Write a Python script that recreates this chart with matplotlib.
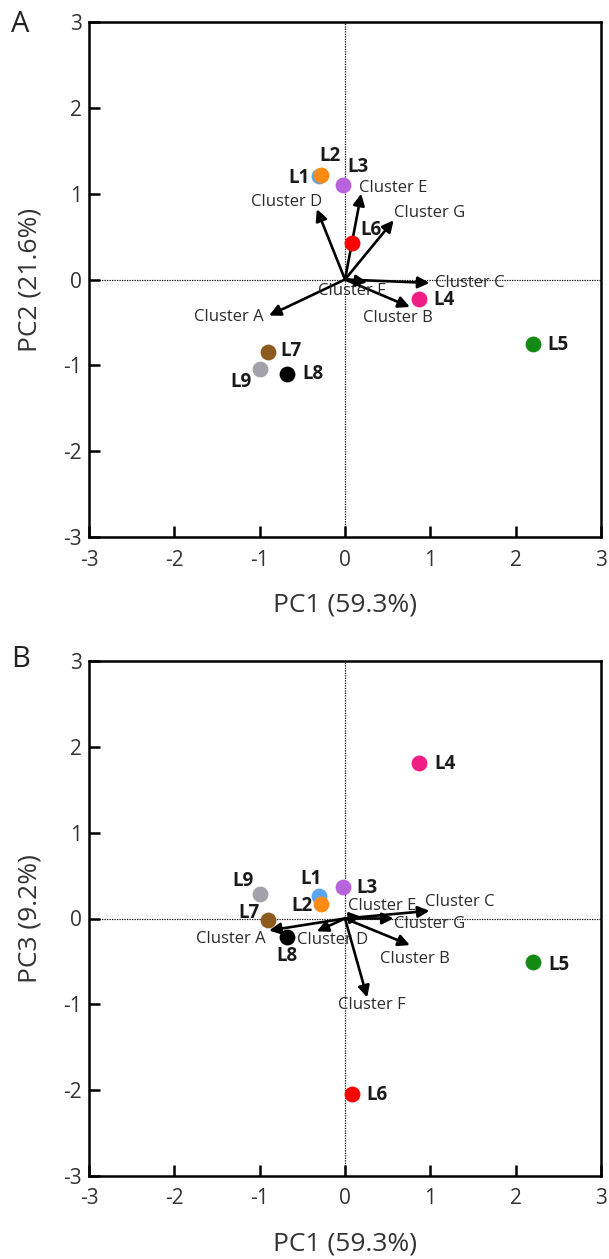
import matplotlib
matplotlib.use("Agg")
import matplotlib.pyplot as plt

plt.rcParams['font.family'] = ['Open Sans', 'DejaVu Sans']

# ---- data ----
samples = ["L1", "L2", "L3", "L4", "L5", "L6", "L7", "L8", "L9"]
pc1 = [-0.31, -0.28, -0.02, 0.87, 2.20, 0.08, -0.90, -0.68, -1.00]
pc2 = [1.21, 1.22, 1.10, -0.23, -0.75, 0.42, -0.85, -1.10, -1.04]
pc3 = [0.26, 0.17, 0.37, 1.81, -0.51, -2.05, -0.02, -0.22, 0.29]
colors = ["#5aa5f0", "#ff8a14", "#b865dd", "#f01e82", "#138a13", "#ff0000",
          "#8c5c1e", "#000000", "#a2a2a8"]

clusters = ["Cluster A", "Cluster B", "Cluster C", "Cluster D", "Cluster E", "Cluster F", "Cluster G"]
load1 = [-0.89, 0.76, 0.99, -0.33, 0.19, 0.26, 0.57]
load2 = [-0.42, -0.32, -0.04, 0.82, 1.00, -0.03, 0.69]
load3 = [-0.14, -0.31, 0.09, -0.15, 0.02, -0.92, 0.00]

ticks = [-3, -2, -1, 0, 1, 2, 3]

# ---- layout (pixel offsets for labels) ----
pt_off_A = {"L1": (-20, -2), "L2": (9, 19), "L3": (15, 18), "L4": (25, -1), "L5": (25, -1),
            "L6": (19, 13), "L7": (23, 1), "L8": (26, 0), "L9": (-19, -13)}
pt_off_B = {"L1": (-8, 17), "L2": (-19, -2), "L3": (24, -1), "L4": (26, -1), "L5": (26, -3),
            "L6": (25, -1), "L7": (-19, 7), "L8": (0, -19), "L9": (-17, 13)}
cl_off_A = {"Cluster A": (-40, -1), "Cluster B": (-12, -11), "Cluster C": (40, 0),
            "Cluster D": (-30, 7), "Cluster E": (32, 6), "Cluster F": (-15, -9),
            "Cluster G": (36, 7)}
cl_off_B = {"Cluster A": (-38, -8), "Cluster B": (5, -14), "Cluster C": (30, 9),
            "Cluster D": (16, -9), "Cluster E": (21, 11), "Cluster F": (5, -8),
            "Cluster G": (36, -6)}

W, H = 609, 1259
fig = plt.figure(figsize=(W / 100, H / 100), dpi=100)
axA = fig.add_axes([89 / W, 1 - 537 / H, 512 / W, 515 / H])
axB = fig.add_axes([89 / W, 1 - 1176 / H, 512 / W, 515 / H])


def draw(ax, ys, loads_y, pt_off, cl_off, ylabel):
    ax.set_xlim(-3, 3)
    ax.set_ylim(-3, 3)
    ax.axhline(0, color='black', lw=0.9, ls=(0, (1, 1)), zorder=1)
    ax.axvline(0, color='black', lw=0.9, ls=(0, (1, 1)), zorder=1)
    for name, lx, ly in zip(clusters, load1, loads_y):
        ax.annotate("", xy=(lx, ly), xytext=(0, 0),
                    arrowprops=dict(arrowstyle='-|>', color='black', lw=1.9,
                                    mutation_scale=17, shrinkA=0, shrinkB=0),
                    zorder=3)
        dx, dy = cl_off[name]
        ax.annotate(name, xy=(lx, ly), xytext=(dx, dy), textcoords='offset pixels',
                    ha='center', va='center', fontsize=12, color='#2b2b2b', zorder=4)
    for name, x, y, c in zip(samples, pc1, ys, colors):
        ax.scatter([x], [y], s=130, color=c, zorder=5, linewidths=0)
        dx, dy = pt_off[name]
        ax.annotate(name, xy=(x, y), xytext=(dx, dy), textcoords='offset pixels',
                    ha='center', va='center', fontsize=13.5, fontweight='bold',
                    color='#1a1a1a', zorder=6)
    ax.set_xticks(ticks)
    ax.set_yticks(ticks)
    ax.set_xticklabels([str(t) for t in ticks])
    ax.set_yticklabels([str(t) for t in ticks])
    ax.tick_params(direction='in', length=8, width=1.8, labelsize=15,
                   labelcolor='#333333', top=False, right=False)
    ax.tick_params(axis='x', pad=9)
    ax.tick_params(axis='y', pad=5)
    for s in ax.spines.values():
        s.set_linewidth(1.8)
    ax.set_xlabel("PC1 (59.3%)", fontsize=19, color='#333333')
    ax.set_ylabel(ylabel, fontsize=19, color='#333333')
    ax.xaxis.set_label_coords(0.5, -68 / 515)
    ax.xaxis.label.set_va('center')
    ax.yaxis.set_label_coords(-59 / 512, 0.5)
    ax.yaxis.label.set_va('center')


draw(axA, pc2, load2, pt_off_A, cl_off_A, "PC2 (21.6%)")
draw(axB, pc3, load3, pt_off_B, cl_off_B, "PC3 (9.2%)")

fig.text(11 / W, 1 - 25 / H, "A", fontsize=21, color='#222222', ha='left', va='center')
fig.text(11 / W, 1 - 660 / H, "B", fontsize=21, color='#222222', ha='left', va='center')

fig.savefig("out.png", dpi=100)
